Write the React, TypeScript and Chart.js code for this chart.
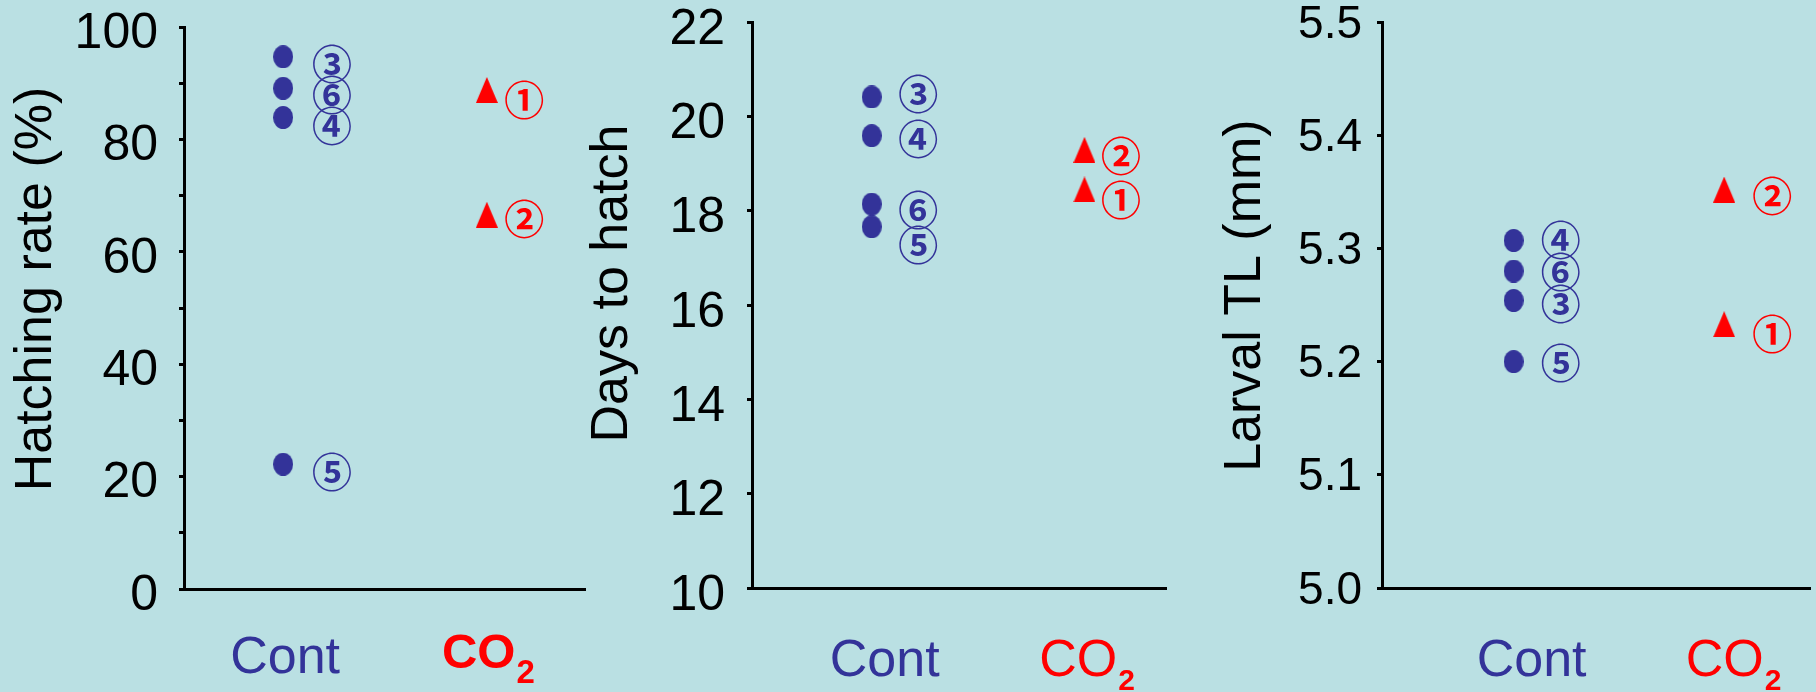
import React, { useEffect, useRef } from "react";
import { Chart, registerables } from "chart.js";

Chart.register(...registerables);

// ---------- data ----------
const groupLabels = ["Cont", "CO2"];

// Panel 1: Hatching rate (%)
const hatchContIds = ["③", "⑥", "④", "⑤"];
const hatchContValues = [94.7, 89.1, 83.9, 22.2];
const hatchCO2Ids = ["①", "②"];
const hatchCO2Values = [88.8, 66.6];

// Panel 2: Days to hatch
const daysContIds = ["③", "④", "⑥", "⑤"];
const daysContValues = [20.41, 19.59, 18.14, 17.66];
const daysCO2Ids = ["②", "①"];
const daysCO2Values = [19.29, 18.45];

// Panel 3: Larval TL (mm)
const tlContIds = ["④", "⑥", "③", "⑤"];
const tlContValues = [5.307, 5.28, 5.254, 5.2];
const tlCO2Ids = ["②", "①"];
const tlCO2Values = [5.352, 5.233];

// ---------- styles ----------
const BG = "#BAE0E3";
const BLUE = "#333399";
const RED = "#FF0000";
const FONT = "'Liberation Sans', Arial, sans-serif";
const CIRC_FONT = "'Noto Sans CJK JP', 'DejaVu Sans', sans-serif";

function makeDot(color: string) {
  const c = document.createElement("canvas");
  c.width = 20;
  c.height = 23;
  const ctx = c.getContext("2d")!;
  ctx.fillStyle = color;
  ctx.beginPath();
  ctx.ellipse(10, 11.5, 10, 11.5, 0, 0, Math.PI * 2);
  ctx.fill();
  return c;
}
function makeTri(color: string) {
  const c = document.createElement("canvas");
  c.width = 22;
  c.height = 26;
  const ctx = c.getContext("2d")!;
  ctx.fillStyle = color;
  ctx.beginPath();
  ctx.moveTo(11, 0);
  ctx.lineTo(22, 26);
  ctx.lineTo(0, 26);
  ctx.closePath();
  ctx.fill();
  return c;
}

type Panel = {
  left: number;
  width: number;
  title: string;
  titleX: number;
  titleY: number;
  yMin: number;
  yMax: number;
  step: number;
  tickFmt: (v: number) => string;
  tickSize: number;
  tickPad: number;
  tickShift: number;
  axisLeft: number;
  padTop: number;
  padRight: number;
  plotBottom: number;
  xMin: number;
  xMax: number;
  contIds: string[];
  contValues: number[];
  co2Ids: string[];
  co2Values: number[];
  contDx: number;
  contDy: number[];
  co2Dx: number;
  co2Dy: number[];
  contLabelDx: number;
  co2LabelDx: number;
  co2Bold: boolean;
  contBase: number;
  coBase: number;
  coSize: number;
  subSize: number;
  subBase: number;
};

const panels: Panel[] = [
  {
    left: 0,
    width: 600,
    title: "Hatching rate (%)",
    titleX: 36.6,
    titleY: 289,
    yMin: 0,
    yMax: 100,
    step: 10,
    tickFmt: (v) => (Math.round(v) % 20 === 0 ? String(Math.round(v)) : ""),
    tickSize: 50,
    tickPad: 21,
    tickShift: 7,
    axisLeft: 184,
    padTop: 27,
    padRight: 15,
    plotBottom: 589,
    xMin: 0.027,
    xMax: 3.964,
    contIds: hatchContIds,
    contValues: hatchContValues,
    co2Ids: hatchCO2Ids,
    co2Values: hatchCO2Values,
    contDx: 49,
    contDy: [7, 7, 8, 8],
    co2Dx: 37.5,
    co2Dy: [10, 4],
    contLabelDx: 2,
    co2LabelDx: 1,
    co2Bold: true,
    contBase: 673,
    coBase: 668,
    coSize: 49,
    subSize: 33,
    subBase: 683,
  },
  {
    left: 588,
    width: 612,
    title: "Days to hatch",
    titleX: 25,
    titleY: 283.5,
    yMin: 10,
    yMax: 22,
    step: 2,
    tickFmt: (v) => String(Math.round(v)),
    tickSize: 50,
    tickPad: 22,
    tickShift: 8,
    axisLeft: 164,
    padTop: 22,
    padRight: 34,
    plotBottom: 588,
    xMin: -0.125,
    xMax: 3.766,
    contIds: daysContIds,
    contValues: daysContValues,
    co2Ids: daysCO2Ids,
    co2Values: daysCO2Values,
    contDx: 46.5,
    contDy: [-3, 3.5, 6, 18],
    co2Dx: 36.5,
    co2Dy: [6, 10],
    contLabelDx: 13,
    co2LabelDx: 2,
    co2Bold: false,
    contBase: 676,
    coBase: 676,
    coSize: 52,
    subSize: 30,
    subBase: 690,
  },
  {
    left: 1200,
    width: 616,
    title: "Larval TL (mm)",
    titleX: 45.8,
    titleY: 295.6,
    yMin: 5.0,
    yMax: 5.5,
    step: 0.1,
    tickFmt: (v) => v.toFixed(1),
    tickSize: 46,
    tickPad: 15,
    tickShift: 3,
    axisLeft: 182,
    padTop: 22,
    padRight: 6,
    plotBottom: 588,
    xMin: -0.251,
    xMax: 3.816,
    contIds: tlContIds,
    contValues: tlContValues,
    co2Ids: tlCO2Ids,
    co2Values: tlCO2Values,
    contDx: 47,
    contDy: [-1, 0.5, 3.5, 1],
    co2Dx: 48,
    co2Dy: [6, 10],
    contLabelDx: 18,
    co2LabelDx: 9,
    co2Bold: false,
    contBase: 676,
    coBase: 676,
    coSize: 52,
    subSize: 30,
    subBase: 690,
  },
];

function makePlugin(p: Panel) {
  return {
    id: "annot",
    afterDraw(chart: any) {
      const ctx = chart.ctx as CanvasRenderingContext2D;
      const xs = chart.scales.x;
      const ys = chart.scales.y;
      ctx.save();
      // circled sample ids
      ctx.textAlign = "center";
      ctx.textBaseline = "middle";
      ctx.font = `bold 40px ${CIRC_FONT}`;
      ctx.fillStyle = BLUE;
      const cx = xs.getPixelForValue(1);
      p.contValues.forEach((v, i) => {
        ctx.fillText(p.contIds[i], cx + p.contDx, ys.getPixelForValue(v) + p.contDy[i]);
      });
      ctx.fillStyle = RED;
      const rx = xs.getPixelForValue(3);
      p.co2Values.forEach((v, i) => {
        ctx.fillText(p.co2Ids[i], rx + p.co2Dx, ys.getPixelForValue(v) + p.co2Dy[i]);
      });

      // group labels
      ctx.textBaseline = "alphabetic";
      ctx.textAlign = "center";
      ctx.fillStyle = BLUE;
      ctx.font = `52px ${FONT}`;
      ctx.fillText(groupLabels[0], cx + p.contLabelDx, p.contBase);

      const w = p.co2Bold ? "bold " : "";
      ctx.fillStyle = RED;
      ctx.font = `${w}${p.coSize}px ${FONT}`;
      const main = groupLabels[1].slice(0, 2);
      const sub = groupLabels[1].slice(2);
      const mw = ctx.measureText(main).width;
      ctx.font = `bold ${p.subSize}px ${FONT}`;
      const sw = ctx.measureText(sub).width;
      const start = rx + p.co2LabelDx - (mw + sw) / 2;
      ctx.textAlign = "left";
      ctx.font = `${w}${p.coSize}px ${FONT}`;
      ctx.fillText(main, start, p.coBase);
      ctx.font = `bold ${p.subSize}px ${FONT}`;
      ctx.fillText(sub, start + mw + 1, p.subBase);

      // y title
      ctx.translate(p.titleX, p.titleY);
      ctx.rotate(-Math.PI / 2);
      ctx.textAlign = "center";
      ctx.textBaseline = "middle";
      ctx.fillStyle = "#000";
      ctx.font = `52px ${FONT}`;
      ctx.fillText(p.title, 0, 0);
      ctx.restore();
    },
  };
}

function PanelChart({ p }: { p: Panel }) {
  const ref = useRef<HTMLCanvasElement | null>(null);
  useEffect(() => {
    if (!ref.current) return;
    const chart = new Chart(ref.current, {
      type: "scatter",
      data: {
        datasets: [
          {
            label: groupLabels[0],
            data: p.contValues.map((v) => ({ x: 1, y: v })),
            pointStyle: makeDot(BLUE) as any,
            pointRadius: 10,
            backgroundColor: BLUE,
            borderWidth: 0,
          },
          {
            label: groupLabels[1],
            data: p.co2Values.map((v) => ({ x: 3, y: v })),
            pointStyle: makeTri(RED) as any,
            pointRadius: 12,
            backgroundColor: RED,
            borderWidth: 0,
          },
        ],
      },
      options: {
        responsive: false,
        animation: false,
        events: [],
        layout: {
          autoPadding: false,
          padding: { top: p.padTop, right: p.padRight, left: 0, bottom: 0 },
        },
        plugins: { legend: { display: false }, tooltip: { enabled: false }, title: { display: false } },
        scales: {
          x: {
            type: "linear",
            min: p.xMin,
            max: p.xMax,
            ticks: { display: false },
            grid: { display: false, drawTicks: false },
            border: { display: true, color: "#000", width: 3 },
            afterFit: (s: any) => {
              s.height = 692 - p.plotBottom;
              s.paddingLeft = 0;
              s.paddingRight = 0;
            },
          },
          y: {
            type: "linear",
            min: p.yMin,
            max: p.yMax,
            ticks: {
              stepSize: p.step,
              callback: (v: any) => p.tickFmt(Number(v)),
              color: "#000",
              font: { family: FONT, size: p.tickSize },
              padding: p.tickPad,
              labelOffset: p.tickShift,
              autoSkip: false,
            },
            grid: {
              display: true,
              drawOnChartArea: false,
              drawTicks: true,
              tickLength: 5,
              tickWidth: 3,
              tickColor: "#000",
              color: "#000",
              lineWidth: 3,
            },
            border: { display: true, color: "#000", width: 3 },
            afterFit: (s: any) => {
              s.width = p.axisLeft;
              s.paddingTop = 0;
              s.paddingBottom = 0;
            },
          },
        },
      } as any,
      plugins: [makePlugin(p)],
    });
    return () => chart.destroy();
  }, [p]);
  return (
    <canvas
      ref={ref}
      width={p.width}
      height={692}
      style={{ position: "absolute", left: p.left, top: 0, width: p.width, height: 692, display: "block" }}
    />
  );
}

export default function App() {
  useEffect(() => {
    document.body.style.margin = "0";
  }, []);
  return (
    <div style={{ position: "absolute", left: 0, top: 0, width: 1816, height: 692, background: BG, overflow: "hidden" }}>
      {panels.map((p, i) => (
        <PanelChart key={i} p={p} />
      ))}
    </div>
  );
}
